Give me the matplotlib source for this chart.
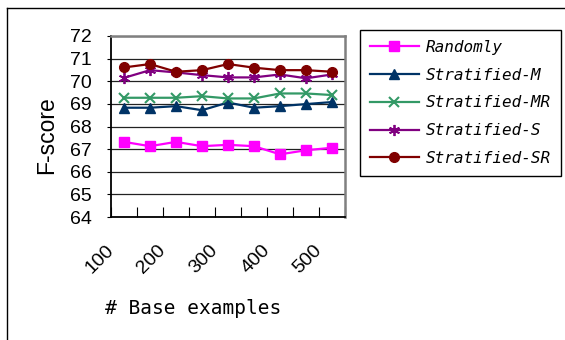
import matplotlib.pyplot as plt
from matplotlib.lines import Line2D

# values (9 points per series)
base_labels = ["100", "200", "300", "400", "500"]
randomly = [67.32, 67.13, 67.32, 67.13, 67.19, 67.13, 66.77, 66.95, 67.06]
strat_m = [68.83, 68.83, 68.90, 68.72, 69.06, 68.83, 68.90, 68.99, 69.08]
strat_mr = [69.27, 69.27, 69.27, 69.34, 69.24, 69.24, 69.46, 69.46, 69.39]
strat_s = [70.15, 70.49, 70.39, 70.27, 70.17, 70.17, 70.30, 70.13, 70.30]
strat_sr = [70.61, 70.76, 70.42, 70.49, 70.76, 70.60, 70.49, 70.49, 70.42]

W, H = 565, 340
fig = plt.figure(figsize=(W / 100, H / 100), dpi=100)
ax = fig.add_axes([111 / W, 1 - 217 / H, (345 - 111) / W, (217 - 36) / H])

xs = [i + 0.5 for i in range(len(randomly))]
series = [
    (randomly, "Randomly", "#ff00ff", "s", 6.5, 1.0),
    (strat_m, "Stratified-M", "#003366", "^", 7.5, 1.0),
    (strat_mr, "Stratified-MR", "#339966", "x", 7.5, 1.5),
    (strat_s, "Stratified-S", "#800080", (6, 2, 0), 8, 1.3),
    (strat_sr, "Stratified-SR", "#800000", "o", 7, 1.0),
]
for ys, name, col, mk, ms, mew in series:
    ax.plot(xs, ys, color=col, marker=mk, markersize=ms, markeredgewidth=mew,
            markeredgecolor=col, markerfacecolor=col, lw=1.6, label=name,
            clip_on=False, zorder=3)

ax.set_xlim(0, 9)
ax.set_ylim(64, 72)
ax.set_yticks(range(64, 73))
ax.yaxis.grid(True, color="#222222", lw=0.9)
ax.set_axisbelow(True)
ax.tick_params(axis="y", labelsize=14, length=3, pad=11)
for t in ax.get_yticklabels():
    t.set_fontfamily("Liberation Sans")

ax.set_xticks(range(0, 10))
xl = []
for i in range(10):
    xl.append(base_labels[i // 2] if i % 2 == 0 and i // 2 < len(base_labels) else "")
ax.set_xticklabels(xl, rotation=45, ha="right", va="center",
                   rotation_mode="anchor", fontsize=14, family="Liberation Sans")
ax.tick_params(axis="x", direction="in", length=7, pad=22)

for s in ["left", "bottom"]:
    ax.spines[s].set_color("black")
    ax.spines[s].set_linewidth(1.3)
for s in ["top", "right"]:
    ax.spines[s].set_color("#808080")
    ax.spines[s].set_linewidth(1.8)

fig.text(47 / W, 1 - 135 / H, "F-score", rotation=90, fontsize=16.5,
         family="Liberation Sans", ha="center", va="center")
fig.text(193 / W, 1 - 308 / H, "# Base examples", fontsize=14,
         family="DejaVu Sans Mono", ha="center", va="center")

leg = fig.legend(loc="upper left", bbox_to_anchor=(360 / W, 1 - 30 / H),
                 borderaxespad=0, fancybox=False, edgecolor="black",
                 framealpha=1, handlelength=3.05, handletextpad=0.45,
                 labelspacing=0.8, borderpad=0.62,
                 prop={"family": "DejaVu Sans Mono", "style": "italic", "size": 11.5})
leg.get_frame().set_linewidth(1.0)

# outer chart border (only left and top edges visible)
fig.add_artist(Line2D([7 / W, 7 / W], [0, 1 - 8 / H], color="black", lw=1.0))
fig.add_artist(Line2D([7 / W, 1], [1 - 8 / H, 1 - 8 / H], color="black", lw=1.0))

fig.savefig("out.png", dpi=100)
